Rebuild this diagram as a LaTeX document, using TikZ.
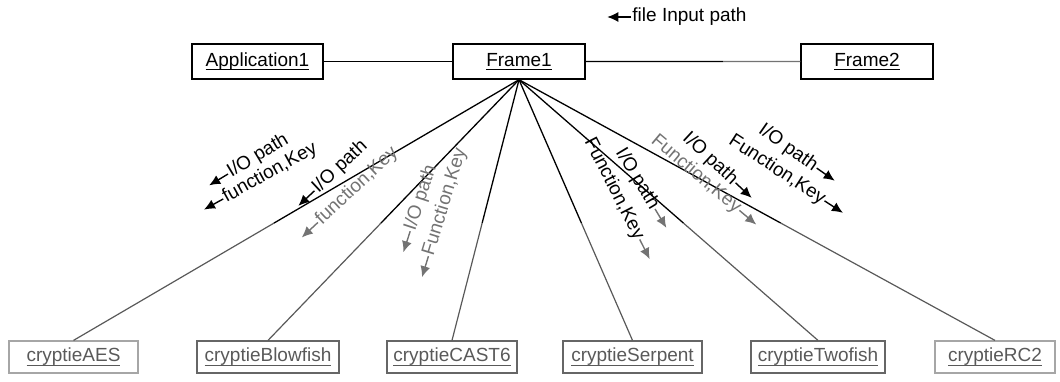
\documentclass[tikz,border=0pt]{standalone}
\usepackage{fontspec}
\setmainfont{Liberation Sans}
\usetikzlibrary{arrows.meta,calc}

% underlined object name
\newcommand{\objname}[1]{\setbox0\hbox{#1}\rlap{\rule[-4pt]{\wd0}{1.2pt}}\box0}

\tikzset{
  obj/.style={draw, line width=1.4pt, minimum height=35pt, inner sep=0pt,
    font=\fontsize{19}{22}\selectfont},
  algo/.style={draw=black!60, line width=1.2pt, text=black!65, minimum height=32pt,
    inner sep=0pt, font=\fontsize{19}{22}\selectfont},
  lbl/.style={inner sep=1pt, font=\fontsize{19}{22}\selectfont},
  lblgray/.style={lbl, text=black!55},
  tip/.style={-{Latex[length=11pt,width=10pt]}, line width=1.4pt},
}

\begin{document}
\begin{tikzpicture}[x=1pt,y=1pt]
  \useasboundingbox (0,0) rectangle (1060,381);

  % top row
  \node[obj, minimum width=131pt] (app) at (257.5,319.5) {\objname{Application1}};
  \node[obj, minimum width=132pt] (f1) at (519,319.5) {\objname{Frame1}};
  \node[obj, minimum width=132pt] (f2) at (867,319.5) {\objname{Frame2}};
  \draw[line width=1.3pt] (app.east) -- (f1.west);
  \coordinate (fm) at ($(f1.east)!0.64!(f2.west)$);
  \draw[line width=1.3pt] (f1.east) -- (fm);
  \draw[line width=1.3pt, black!55] (fm) -- (f2.west);

  \node[lbl] (fip) at (689.5,364) {file Input path};
  \draw[tip] (fip.west) -- ++(180:24);

  % cipher objects
  \node[algo, draw=black!35, minimum width=129pt] (aes) at (73.5,24) {\objname{cryptieAES}};
  \node[algo, minimum width=142pt] (blow) at (268,24) {\objname{cryptieBlowfish}};
  \node[algo, minimum width=130pt] (cast) at (452,24) {\objname{cryptieCAST6}};
  \node[algo, minimum width=139pt] (serp) at (632.5,24) {\objname{cryptieSerpent}};
  \node[algo, minimum width=134pt] (two) at (818,24) {\objname{cryptieTwofish}};
  \node[algo, draw=black!35, minimum width=120pt] (rc) at (995,24) {\objname{cryptieRC2}};

  \foreach \c in {aes,blow,cast,serp,two,rc}{
    \coordinate (m) at ($(f1.south)!0.55!(\c.north)$);
    \draw[line width=1.3pt] (f1.south) -- (m);
    \draw[line width=1.2pt, black!65] (m) -- (\c.north);
  }

  % labels, left side
  \node[lbl, rotate=31] (io1) at (258,225) {I/O path};
  \draw[tip] (io1.west) -- ++(211:22);
  \node[lbl, rotate=29] (fk1) at (270,208) {function,Key};
  \draw[tip] (fk1.west) -- ++(209:22);

  \node[lbl, rotate=43] (io2) at (340,214) {I/O path};
  \draw[tip] (io2.west) -- ++(223:22);
  \node[lblgray, rotate=43] (fk2) at (357,195) {function,Key};
  \draw[tip, black!55] (fk2.west) -- ++(223:22);

  \node[lblgray, rotate=72] (io3) at (421,183) {I/O path};
  \draw[tip, black!55] (io3.west) -- ++(252:22);
  \node[lblgray, rotate=73] (fk3) at (445,179) {Function,Key};
  \draw[tip, black!55] (fk3.west) -- ++(253:22);

  % labels, right side
  \node[lbl, rotate=-63] (fk4) at (614,192) {Function,Key};
  \draw[tip, black!55] (fk4.east) -- ++(-63:22);
  \node[lbl, rotate=-59] (io4) at (637,202) {I/O path};
  \draw[tip, black!55] (io4.east) -- ++(-59:22);

  \node[lbl, rotate=-43] (io5) at (710,222) {I/O path};
  \draw[tip] (io5.east) -- ++(-43:22);
  \node[lblgray, rotate=-40] (fk5) at (696,207) {Function,Key};
  \draw[tip, black!55] (fk5.east) -- ++(-40:22);

  \node[lbl, rotate=-35] (io6) at (788,233) {I/O path};
  \draw[tip] (io6.east) -- ++(-35:22);
  \node[lbl, rotate=-33] (fk6) at (777,211) {Function,Key};
  \draw[tip] (fk6.east) -- ++(-33:22);
\end{tikzpicture}
\end{document}
